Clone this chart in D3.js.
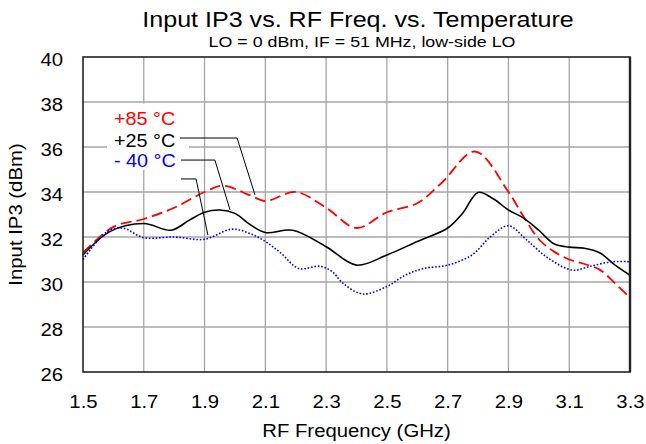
<!DOCTYPE html>
<html>
<head>
<meta charset="utf-8">
<script src="https://cdn.jsdelivr.net/npm/d3@7"></script>
<style>
  body { margin: 0; background: #fff; }
  svg text { font-family: "Liberation Sans", Arial, sans-serif; }
</style>
</head>
<body>
<svg id="chart"></svg>
<script>
// ---- data ----
const xTicks = [1.5, 1.7, 1.9, 2.1, 2.3, 2.5, 2.7, 2.9, 3.1, 3.3];
const yTicks = [26, 28, 30, 32, 34, 36, 38, 40];

const freq85 = [1.5, 1.6, 1.7, 1.8, 1.9, 1.96, 2.05, 2.1, 2.2, 2.3, 2.4, 2.5, 2.6, 2.68, 2.79, 2.9, 2.95, 3.0, 3.05, 3.1, 3.15, 3.2, 3.25, 3.3];
const ip3_85 = [31.3, 32.45, 32.8, 33.3, 34.0, 34.28, 33.85, 33.6, 34.0, 33.3, 32.4, 33.1, 33.5, 34.4, 35.8, 34.0, 32.9, 31.9, 31.35, 31.0, 30.8, 30.55, 29.95, 29.3];

const freq25 = [1.5, 1.59, 1.7, 1.79, 1.85, 1.9, 1.95, 2.0, 2.05, 2.1, 2.19, 2.3, 2.4, 2.5, 2.6, 2.7, 2.75, 2.8, 2.85, 2.9, 2.95, 3.0, 3.05, 3.1, 3.15, 3.2, 3.25, 3.3];
const ip3_25 = [31.2, 32.25, 32.6, 32.3, 32.75, 33.1, 33.2, 33.05, 32.55, 32.2, 32.3, 31.57, 30.75, 31.2, 31.8, 32.4, 33.07, 33.98, 33.7, 33.2, 32.84, 32.3, 31.7, 31.55, 31.5, 31.3, 30.76, 30.3];

const freqM40 = [1.5, 1.58, 1.63, 1.7, 1.8, 1.9, 1.99, 2.05, 2.1, 2.15, 2.21, 2.28, 2.32, 2.355, 2.42, 2.5, 2.56, 2.62, 2.7, 2.78, 2.84, 2.9, 2.96, 3.03, 3.11, 3.17, 3.24, 3.3];
const ip3_M40 = [31.0, 32.24, 32.4, 31.97, 32.0, 31.9, 32.35, 32.15, 31.8, 31.3, 30.6, 30.7, 30.46, 29.95, 29.47, 29.8, 30.3, 30.6, 30.75, 31.2, 32.0, 32.5, 31.87, 31.07, 30.53, 30.7, 30.9, 30.9];

const seriesNames = ["+85 °C", "+25 °C", "- 40 °C"];
const seriesColors = ["#ff0000", "#000000", "#0000ff"];

// leader lines (label -> curve), in data units: [freq, dBm]
const leaders = [
  [[1.819, 36.4], [2.007, 36.4], [2.066, 33.87]],
  [[1.8225, 35.42], [1.934, 35.42], [1.984, 33.2]],
  [[1.8225, 34.58], [1.872, 34.58], [1.911, 32.09]]
];

// ---- layout ----
const W = 646, H = 444;
const margin = {top: 57, right: 16, bottom: 72, left: 83};
const width = W - margin.left - margin.right;
const height = H - margin.top - margin.bottom;
const SX = 1.13; // text in the reference is a bit wide

const svg = d3.select("#chart").attr("width", W).attr("height", H);

const xScale = d3.scaleLinear().domain([1.5, 3.3]).range([0, width]);
const yScale = d3.scaleLinear().domain([26, 40]).range([height, 0]);

const chart = svg.append("g")
    .attr("transform", `translate(${margin.left},${margin.top})`);

// gridlines
chart.append("g").selectAll("line.gx")
    .data(xTicks.slice(1, -1)).join("line")
    .attr("x1", d => xScale(d)).attr("x2", d => xScale(d))
    .attr("y1", 0).attr("y2", height)
    .attr("stroke", "#a6a6a6").attr("stroke-width", 1.3);
chart.append("g").selectAll("line.gy")
    .data(yTicks.slice(1, -1)).join("line")
    .attr("x1", 0).attr("x2", width)
    .attr("y1", d => yScale(d)).attr("y2", d => yScale(d))
    .attr("stroke", "#a6a6a6").attr("stroke-width", 1.3);

// axes (labels only)
const xAxis = d3.axisBottom(xScale).tickValues(xTicks).tickFormat(d3.format(".1f"))
    .tickSize(0).tickPadding(23);
const yAxis = d3.axisLeft(yScale).tickValues(yTicks).tickFormat(d3.format("d"))
    .tickSize(0).tickPadding(17.7);

chart.append("g").attr("transform", `translate(0,${height})`).call(xAxis)
    .call(g => g.select(".domain").remove())
    .selectAll("text")
    .attr("font-size", 18).attr("font-family", "Liberation Sans, Arial, sans-serif")
    .attr("fill", "#000").attr("transform", `scale(${SX},1)`);

chart.append("g").call(yAxis)
    .call(g => g.select(".domain").remove())
    .selectAll("text")
    .attr("font-size", 18).attr("font-family", "Liberation Sans, Arial, sans-serif")
    .attr("fill", "#000").attr("dy", "0.47em").attr("transform", `scale(${SX},1)`);

// label background box
chart.append("rect")
    .attr("x", 107 - margin.left).attr("y", 103.5 - margin.top)
    .attr("width", 82).attr("height", 66.5)
    .attr("fill", "#fff");

// curves
const line = d3.line()
    .x(d => xScale(d[0]))
    .y(d => yScale(d[1]))
    .curve(d3.curveCatmullRom.alpha(0.5));

const series = [
  {pts: d3.zip(freq85, ip3_85), color: seriesColors[0], w: 1.8, dash: "11,5"},
  {pts: d3.zip(freq25, ip3_25), color: seriesColors[1], w: 1.6, dash: null},
  {pts: d3.zip(freqM40, ip3_M40), color: seriesColors[2], w: 1.6, dash: "1.6,1.8"}
];

chart.selectAll("path.series")
    .data(series).join("path")
    .attr("class", "series")
    .attr("d", d => line(d.pts))
    .attr("fill", "none")
    .attr("stroke", d => d.color)
    .attr("stroke-width", d => d.w)
    .attr("stroke-dasharray", d => d.dash);

// leader lines
chart.selectAll("path.leader")
    .data(leaders).join("path")
    .attr("class", "leader")
    .attr("d", d3.line().x(d => xScale(d[0])).y(d => yScale(d[1])))
    .attr("fill", "none")
    .attr("stroke", "#000")
    .attr("stroke-width", 1);

// series labels
const labelY = [125, 146.7, 166.7];
chart.selectAll("text.lbl")
    .data(seriesNames).join("text")
    .attr("class", "lbl")
    .attr("transform", (d, i) => `translate(${114 - margin.left},${labelY[i] - margin.top}) scale(1.1,1)`)
    .attr("font-size", 18)
    .attr("fill", (d, i) => seriesColors[i])
    .text(d => d);

// frame
chart.append("rect")
    .attr("x", 0).attr("y", 0).attr("width", width).attr("height", height)
    .attr("fill", "none").attr("stroke", "#222").attr("stroke-width", 1.6);
chart.append("line")
    .attr("x1", width).attr("x2", width).attr("y1", 0).attr("y2", height)
    .attr("stroke", "#222").attr("stroke-width", 2.4);

// titles
svg.append("text")
    .attr("transform", `translate(358,26.7) scale(1.14,1)`)
    .attr("text-anchor", "middle").attr("font-size", 22)
    .text("Input IP3 vs. RF Freq. vs. Temperature");
svg.append("text")
    .attr("transform", `translate(362,46.5) scale(1.15,1)`)
    .attr("text-anchor", "middle").attr("font-size", 15.5)
    .text("LO = 0 dBm, IF = 51 MHz, low-side LO");

svg.append("text")
    .attr("transform", `translate(${margin.left + width / 2},437) scale(${SX},1)`)
    .attr("text-anchor", "middle").attr("font-size", 18)
    .text("RF Frequency (GHz)");
svg.append("text")
    .attr("transform", `translate(22,${margin.top + height / 2}) rotate(-90) scale(${SX},1)`)
    .attr("text-anchor", "middle").attr("font-size", 18)
    .text("Input IP3 (dBm)");
</script>
</body>
</html>
